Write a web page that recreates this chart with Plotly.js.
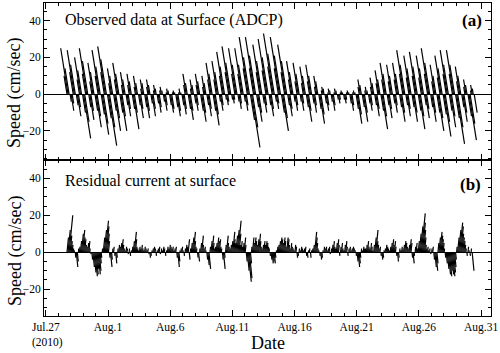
<!DOCTYPE html>
<html><head><meta charset="utf-8">
<script src="https://cdn.plot.ly/plotly-3.0.1.min.js"></script>
<style>html,body{margin:0;padding:0;background:#fff}#chart{width:500px;height:353px}</style>
</head><body><div id="chart"></div>
<script>
// ---- data ----
const tickDays   = [0, 5, 10, 15, 20, 25, 30, 35];
const tickLabels = ['Jul.27','Aug.1','Aug.6','Aug.11','Aug.16','Aug.21','Aug.26','Aug.31'];
const startDay = 1.7;          // days after Jul.27 00:00 of first record
const stepHours = 2;           // sampling interval used for the read-off
// observed surface current, north component (cm/s), 2-hourly
const observedV = [
 10,25,14,-4,-9,-5,12,24,16,-6,-12,-7,
 8,20,13,-10,-24,-15,11,25,18,-7,-14,-9,
 7,17,12,-9,-18,-12,10,24,15,-11,-22,-16,
 12,26,19,-13,-28,-18,6,14,10,-9,-20,-13,
 8,17,11,-10,-20,-12,5,12,8,-6,-12,-8,
 5,11,7,-8,-19,-10,4,10,6,-6,-13,-8,
 3,8,6,-7,-13,-9,4,8,5,-5,-12,-8,
 2,5,3,-5,-10,-7,2,4,2,-4,-9,-6,
 1,3,2,-6,-10,-8,1,2,1,-7,-12,-9,
 1,3,1,-6,-11,-8,5,11,6,-8,-14,-9,
 3,8,5,-5,-9,-6,5,11,7,-9,-15,-10,
 4,10,6,-6,-12,-8,8,17,11,-9,-17,-11,
 8,18,12,-4,-9,-6,10,23,15,-3,-6,-4,
 12,26,17,-3,-5,-3,11,25,16,-4,-8,-5,
 11,25,16,-4,-9,-6,14,31,20,-14,-29,-18,
 14,31,21,-7,-15,-10,12,27,18,-5,-10,-6,
 13,30,20,-6,-12,-8,15,33,22,-4,-8,-5,
 14,31,21,-10,-20,-13,12,27,18,-6,-12,-8,
 8,18,12,-4,-9,-6,7,17,11,-4,-9,-5,
 6,15,10,-7,-15,-9,7,16,10,-5,-10,-6,
 4,10,7,-8,-16,-11,2,4,3,-5,-9,-6,
 1,3,2,-4,-9,-6,1,3,2,-3,-5,-3,
 1,2,1,-3,-5,-3,1,2,1,-5,-9,-6,
 1,2,1,-8,-16,-11,4,8,5,-7,-15,-10,
 2,4,2,-5,-9,-6,4,9,6,-6,-12,-8,
 6,13,8,-9,-19,-12,8,17,11,-6,-13,-8,
 7,16,10,-5,-10,-6,8,17,11,-7,-15,-10,
 11,24,16,-6,-12,-8,9,21,14,-7,-15,-10,
 10,23,15,-9,-19,-12,9,21,14,-6,-13,-8,
 11,25,17,-7,-15,-10,7,16,10,-10,-20,-13,
 9,21,14,-11,-23,-15,11,24,16,-9,-18,-12,
 11,24,16,-13,-27,-18,7,15,10,-7,-15,-10,
 4,8,5,-12,-25,-16,2,5,3,-10
];
// residual (de-tided) surface current, north component (cm/s), 2-hourly
const residualV = [
 8,12,20,9,6,4,2,1,-3,-8,-5,2,
 3,6,10,12,8,7,4,3,5,6,2,-1,
 -4,-8,-11,-13,-12,-9,-12,-10,-6,-3,2,8,
 12,17,14,10,6,-3,-8,-4,2,3,-2,-6,
 -3,2,4,3,5,7,4,2,1,3,2,-1,
 2,-2,1,3,6,11,7,3,2,1,3,2,
 4,2,1,3,2,1,2,-1,-3,-2,1,2,
 3,2,-2,1,2,3,-1,2,1,3,2,-2,
 1,3,2,4,3,2,3,1,2,3,-3,-8,
 -5,1,2,3,1,-2,2,4,3,7,-4,2,
 5,8,11,6,3,2,-3,-5,2,5,9,4,
 2,3,1,-4,-7,-9,3,6,9,5,2,3,
 5,8,6,7,3,2,-4,-9,-3,4,9,5,
 3,2,4,6,11,7,5,9,12,17,10,4,
 6,3,5,8,4,-5,-10,-16,-14,-6,3,8,
 5,8,6,4,7,10,6,3,2,4,6,4,
 6,5,3,2,-2,-4,-6,-5,-6,-3,1,3,
 4,6,8,7,5,8,6,3,8,7,4,2,
 5,3,2,1,4,3,-3,-2,2,1,3,2,
 1,2,3,-2,-3,1,2,-3,1,2,4,11,
 8,5,2,1,-2,-4,-3,1,3,2,3,1,
 2,3,-1,2,4,6,3,2,5,7,4,-2,
 3,5,2,1,4,6,3,-2,2,3,1,2,
 3,2,1,-2,-5,-8,-6,-3,2,1,3,2,
 2,4,6,3,2,5,3,1,4,8,12,6,
 4,2,3,-2,-4,-3,1,2,4,3,2,1,
 3,5,7,4,6,3,-2,-5,-3,2,1,3,
 2,4,6,5,3,2,4,7,5,-3,-6,-2,
 3,5,2,6,10,14,21,16,12,8,4,2,
 3,1,2,-1,2,3,-4,-8,-10,-6,5,8,
 11,9,7,5,2,-3,-6,-9,-12,-13,-10,-12,
 -13,-11,-8,-4,3,8,12,16,14,10,8,6,
 4,2,-2,3,1,-2,2,-10
];
// east component estimated from the stick lean (principal flow axis)
const observedLean = -0.16;   // u ≈ lean · v  (NW–SE tidal axis)
const residualLean = 0.10;    // u ≈ lean · |v|

// ---- layout geometry ----
const W = 500, H = 353, M = {l:44, r:9, t:3, b:37};
const xRange = [-0.15, 35.8];
const yTopRange = [-35.8, 49.6], yBotRange = [-34.5, 49.9];
const split = 0.4984;
const plotW = W - M.l - M.r, plotH = H - M.t - M.b;
const pxPerDay = plotW / (xRange[1] - xRange[0]);
const pxTop = plotH * (1 - split) / (yTopRange[1] - yTopRange[0]);
const pxBot = plotH * split / (yBotRange[1] - yBotRange[0]);

function sticks(v, uOf, pxPerUnit) {
  const xs = [], ys = [];
  const step = stepHours / 24;
  v.forEach((val, i) => {
    const t = startDay + i * step;
    const u = uOf(val);
    xs.push(t, t + u * pxPerUnit / pxPerDay, null);
    ys.push(0, val, null);
  });
  return {xs, ys};
}
const obsSticks = sticks(observedV, v => observedLean * v, pxTop);
const resSticks = sticks(residualV, v => residualLean * Math.abs(v), pxBot);

const serif = 'Liberation Serif, Times New Roman, serif';
const traces = [
  {x: obsSticks.xs, y: obsSticks.ys, xaxis: 'x2', yaxis: 'y2', mode: 'lines', type: 'scatter',
   line: {color: '#000', width: 1.2}, hoverinfo: 'skip', showlegend: false, connectgaps: false},
  {x: resSticks.xs, y: resSticks.ys, xaxis: 'x', yaxis: 'y', mode: 'lines', type: 'scatter',
   line: {color: '#000', width: 1.2}, hoverinfo: 'skip', showlegend: false, connectgaps: false}
];

const xCommon = {
  range: xRange, showgrid: false, zeroline: false, showline: true, linecolor: '#000', linewidth: 1,
  mirror: 'ticks', ticks: 'inside', ticklen: 6, tickcolor: '#000', tickwidth: 1,
  tickmode: 'array', tickvals: tickDays, ticktext: tickLabels,
  minor: {tickmode: 'linear', tick0: 0, dtick: 1, ticks: 'inside', ticklen: 3, tickcolor: '#000'},
  tickfont: {family: serif, size: 11.5, color: '#000'}
};
const yCommon = {
  showgrid: false, zeroline: true, zerolinecolor: '#000', zerolinewidth: 1.3,
  showline: true, linecolor: '#000', linewidth: 1, mirror: 'ticks',
  ticks: 'inside', ticklen: 6, tickcolor: '#000', tickmode: 'linear', tick0: 0, dtick: 20,
  minor: {dtick: 5, ticks: 'inside', ticklen: 3, tickcolor: '#000'},
  tickfont: {family: serif, size: 11.5, color: '#000'}
};

const ann = (text, x, y, opts) => Object.assign({text, x, y, xref: 'paper', yref: 'paper',
  showarrow: false, font: {family: serif, size: 16, color: '#000'}}, opts || {});
const px2x = p => (p - M.l) / plotW;
const px2y = p => 1 - (p - M.t) / plotH;

const layout = {
  width: W, height: H, margin: M, paper_bgcolor: '#fff', plot_bgcolor: '#fff',
  xaxis: Object.assign({}, xCommon, {anchor: 'y'}),
  xaxis2: Object.assign({}, xCommon, {anchor: 'y2', matches: 'x', showticklabels: false}),
  yaxis: Object.assign({}, yCommon, {domain: [0, split], range: yBotRange, anchor: 'x'}),
  yaxis2: Object.assign({}, yCommon, {domain: [split, 1], range: yTopRange, anchor: 'x2'}),
  annotations: [
    ann('Observed data at Surface (ADCP)', px2x(63), px2y(20), {xanchor: 'left', yanchor: 'middle'}),
    ann('<b>(a)</b>', px2x(484), px2y(20), {xanchor: 'right', yanchor: 'middle', font: {family: serif, size: 17, color: '#000'}}),
    ann('Residual current at surface', px2x(63), px2y(181), {xanchor: 'left', yanchor: 'middle'}),
    ann('<b>(b)</b>', px2x(483), px2y(184), {xanchor: 'right', yanchor: 'middle', font: {family: serif, size: 17, color: '#000'}}),
    ann('Speed (cm/sec)', px2x(15), px2y(93), {textangle: -90, xanchor: 'center', yanchor: 'middle', font: {family: serif, size: 18, color: '#000'}}),
    ann('Speed (cm/sec)', px2x(15), px2y(251), {textangle: -90, xanchor: 'center', yanchor: 'middle', font: {family: serif, size: 18, color: '#000'}}),
    ann('(2010)', px2x(47), px2y(343), {xanchor: 'center', yanchor: 'middle', font: {family: serif, size: 11.5, color: '#000'}}),
    ann('Date', px2x(268), px2y(343), {xanchor: 'center', yanchor: 'middle', font: {family: serif, size: 18, color: '#000'}})
  ]
};
Plotly.newPlot('chart', traces, layout, {staticPlot: true, displayModeBar: false});
</script></body></html>
